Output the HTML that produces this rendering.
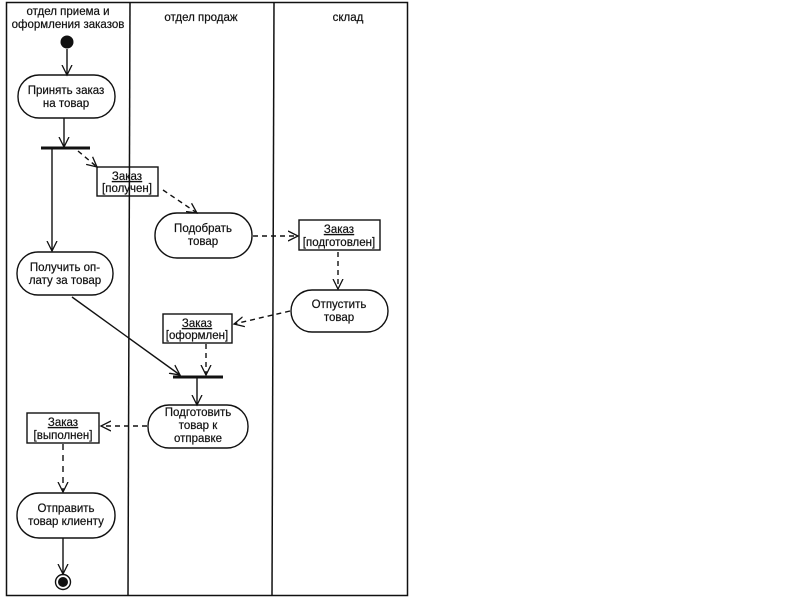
<!DOCTYPE html>
<html><head><meta charset="utf-8"><style>
body{margin:0;background:#fff;width:800px;height:600px;overflow:hidden}
svg text{font-family:"Liberation Sans","DejaVu Sans",sans-serif;font-size:11.5px;fill:#111;stroke:#111;stroke-width:0.2}
</style></head><body>
<svg width="800" height="600" viewBox="0 0 800 600">
<defs>
<marker id="a" markerWidth="12" markerHeight="12" refX="10" refY="6" orient="auto" markerUnits="userSpaceOnUse">
<path d="M0,1 L10,6 L0,11" fill="none" stroke="#111" stroke-width="1.3"/></marker>
</defs>
<g stroke="#111" fill="none" stroke-width="1.5">
<rect x="6.5" y="2.5" width="401" height="593"/>
<line x1="130" y1="2" x2="128" y2="596"/>
<line x1="274" y1="2" x2="272" y2="596"/>
</g>
<text x="68" y="15" text-anchor="middle">отдел приема и</text>
<text x="68" y="28" text-anchor="middle">оформления заказов</text>
<text x="201" y="21" text-anchor="middle">отдел продаж</text>
<text x="348" y="21" text-anchor="middle">склад</text>
<circle cx="67" cy="42" r="6.5" fill="#111"/>
<g stroke="#111" fill="none" stroke-width="1.4">
<line x1="67" y1="49" x2="67" y2="75" marker-end="url(#a)"/>
<rect x="18" y="75" width="97" height="43" rx="21"/>
<line x1="64" y1="118" x2="64" y2="147" marker-end="url(#a)"/>
<line x1="52" y1="149" x2="52" y2="251" marker-end="url(#a)"/>
<rect x="17" y="252" width="96" height="43" rx="21"/>
<line x1="78" y1="151" x2="97" y2="167" stroke-dasharray="5,4" marker-end="url(#a)"/>
<rect x="97" y="167" width="61" height="29"/>
<line x1="163" y1="190" x2="197" y2="213" stroke-dasharray="5,4" marker-end="url(#a)"/>
<rect x="155" y="213" width="97" height="45" rx="22"/>
<line x1="253" y1="236" x2="298" y2="236" stroke-dasharray="5,4" marker-end="url(#a)"/>
<rect x="299" y="220" width="81" height="30"/>
<line x1="338" y1="252" x2="338" y2="289" stroke-dasharray="5,4" marker-end="url(#a)"/>
<rect x="291" y="290" width="97" height="42" rx="21"/>
<line x1="290" y1="311" x2="234" y2="324" stroke-dasharray="5,4" marker-end="url(#a)"/>
<rect x="163" y="314" width="69" height="29"/>
<line x1="206" y1="344" x2="206" y2="375" stroke-dasharray="5,4" marker-end="url(#a)"/>
<line x1="72" y1="297" x2="180" y2="375" marker-end="url(#a)"/>
<line x1="197" y1="378" x2="197" y2="405" marker-end="url(#a)"/>
<rect x="148" y="405" width="100" height="43" rx="21"/>
<line x1="147" y1="426" x2="101" y2="426" stroke-dasharray="5,4" marker-end="url(#a)"/>
<rect x="27" y="413" width="72" height="30"/>
<line x1="63" y1="444" x2="63" y2="492" stroke-dasharray="6,5" marker-end="url(#a)"/>
<rect x="17" y="493" width="98" height="45" rx="22"/>
<line x1="63" y1="538" x2="63" y2="574" marker-end="url(#a)"/>
<circle cx="63" cy="582" r="7.5"/>
</g>
<circle cx="63" cy="582" r="5" fill="#111"/>
<line x1="41" y1="148" x2="90" y2="148" stroke="#111" stroke-width="3"/>
<line x1="173" y1="377" x2="223" y2="377" stroke="#111" stroke-width="3"/>
<text x="66" y="94" text-anchor="middle">Принять заказ</text>
<text x="66" y="107" text-anchor="middle">на товар</text>
<text x="65" y="271" text-anchor="middle">Получить оп-</text>
<text x="65" y="284" text-anchor="middle">лату за товар</text>
<text x="127" y="180" text-anchor="middle" text-decoration="underline">Заказ</text>
<text x="127" y="192" text-anchor="middle">[получен]</text>
<text x="203" y="232" text-anchor="middle">Подобрать</text>
<text x="203" y="245" text-anchor="middle">товар</text>
<text x="339" y="233" text-anchor="middle" text-decoration="underline">Заказ</text>
<text x="339" y="246" text-anchor="middle">[подготовлен]</text>
<text x="339" y="308" text-anchor="middle">Отпустить</text>
<text x="339" y="321" text-anchor="middle">товар</text>
<text x="197" y="327" text-anchor="middle" text-decoration="underline">Заказ</text>
<text x="197" y="339" text-anchor="middle">[оформлен]</text>
<text x="198" y="416" text-anchor="middle">Подготовить</text>
<text x="198" y="429" text-anchor="middle">товар к</text>
<text x="198" y="442" text-anchor="middle">отправке</text>
<text x="63" y="426" text-anchor="middle" text-decoration="underline">Заказ</text>
<text x="63" y="439" text-anchor="middle">[выполнен]</text>
<text x="66" y="512" text-anchor="middle">Отправить</text>
<text x="66" y="525" text-anchor="middle">товар клиенту</text>
</svg>
</body></html>
